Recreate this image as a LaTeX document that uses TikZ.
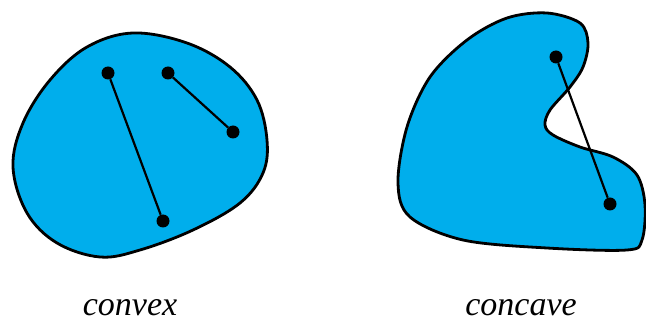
\documentclass[tikz,border=0pt]{standalone}
\usepackage{fontspec}
\setmainfont{Liberation Serif}
\definecolor{blobfill}{RGB}{0,174,236}
\begin{document}
\begin{tikzpicture}[x=1pt,y=-1pt,
  blob/.style={fill=blobfill,draw=black,line width=2.8pt,line join=round},
  dot/.style={circle,fill=black,inner sep=0pt,minimum size=13pt},
  seg/.style={draw=black,line width=2.2pt},
  lbl/.style={font=\itshape\fontsize{34}{34}\selectfont,anchor=base,inner sep=0pt}]
\useasboundingbox (0,0) rectangle (646,323);
% convex shape
\draw[blob] plot[smooth cycle,tension=0.6] coordinates {
 (133,33) (187,43) (230,67) (257,100) (267,140) (263,173) (240,203)
 (193,230) (140,250) (100,257) (57,243) (27,213) (13,167) (23,123)
 (50,80) (87,47)};
% concave shape
\draw[blob] plot[smooth cycle,tension=0.55] coordinates {
 (547,13) (580,23) (588,43) (583,67) (570,87) (550,110) (545,125)
 (553,135) (580,147) (613,157) (637,175) (645,205) (642,240)
 (627,250) (547,248) (463,240) (410,217) (398,183) (407,127)
 (430,77) (467,40) (507,18)};
\node[dot] (a1) at (108,73) {};
\node[dot] (a2) at (163,221) {};
\node[dot] (b1) at (168,73) {};
\node[dot] (b2) at (233,132) {};
\node[dot] (c1) at (556,57) {};
\node[dot] (c2) at (610,204) {};
\draw[seg] (a1) -- (a2);
\draw[seg] (b1) -- (b2);
\draw[seg] (c1) -- (c2);
\node[lbl] (t1) at (130,316) {convex};
\node[lbl] (t2) at (521,316) {concave};
\end{tikzpicture}
\end{document}
